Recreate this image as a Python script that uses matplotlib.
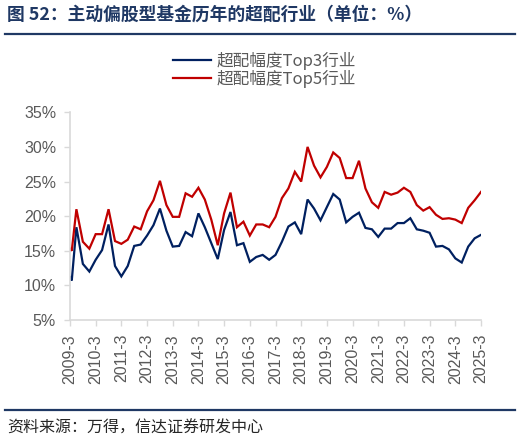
import matplotlib
matplotlib.use("Agg")
import matplotlib.pyplot as plt
import matplotlib.dates as mdates
import pandas as pd

plt.rcParams['font.family'] = ['Liberation Sans', 'Noto Sans CJK SC', 'DejaVu Sans']

# ---- data ----
dates = (["2009-03-31", "2009-04-25"] +
         [d.strftime("%Y-%m-%d") for d in pd.date_range("2009-06-30", "2025-03-31", freq="QE")])
top3 = [11.2, 10.7, 18.4, 13.1, 12.0, 13.7, 15.1, 18.8, 12.8, 11.3, 12.8, 15.7, 15.9, 17.2,
        18.7, 21.1, 17.9, 15.6, 15.7, 17.7, 17.1, 20.4, 18.4, 16.1, 13.8, 18.0, 20.6, 15.8,
        16.1, 13.4, 14.1, 14.4, 13.7,
        14.4, 16.3, 18.5, 19.1, 17.4, 22.4, 21.1, 19.4, 21.3, 23.2, 22.4, 19.1, 19.9, 20.5,
        18.3, 18.1, 17.0, 18.2, 18.2, 19.0, 19.0, 19.7, 18.1, 17.9, 17.6, 15.6, 15.7, 15.2,
        13.9, 13.3, 15.6, 16.8, 17.3]
top5 = [15.3, 15.0, 21.0, 16.3, 15.3, 17.4, 17.4, 21.0, 16.4, 16.0, 16.6, 18.5, 18.1, 20.7,
        22.3, 25.1, 21.6, 19.9, 19.9, 23.3, 22.8, 24.1, 22.4, 19.5, 15.8, 20.4, 23.4, 18.4,
        19.2, 17.2, 18.8, 18.8, 18.4,
        19.9, 22.6, 24.0, 26.4, 25.0, 30.0, 27.3, 25.6, 27.1, 29.2, 28.4, 25.5, 25.5, 28.0,
        24.0, 22.0, 21.2, 23.5, 23.1, 23.4, 24.1, 23.5, 21.6, 20.8, 21.3, 20.2, 19.6, 19.7,
        19.5, 19.0, 21.2, 22.3, 23.5]
series_names = ["超配幅度Top3行业", "超配幅度Top5行业"]
tick_years = list(range(2009, 2026))
tick_labels = [f"{y}-3" for y in tick_years]
y_ticks = [5, 10, 15, 20, 25, 30, 35]

title = "图 52：主动偏股型基金历年的超配行业（单位：%）"
source = "资料来源：万得，信达证券研发中心"

# ---- figure ----
W, H = 521, 441
fig = plt.figure(figsize=(W / 100, H / 100), dpi=100)
ax = fig.add_axes([70 / W, 1 - 320 / H, (481 - 70) / W, (320 - 112.3) / H])

x = pd.to_datetime(dates)
navy = "#002060"
red = "#C00000"
gray = "#595959"
axis_gray = "#D9D9D9"

l1, = ax.plot(x, top3, color=navy, lw=1.6, solid_joinstyle='miter')
l2, = ax.plot(x, top5, color=red, lw=1.6, solid_joinstyle='miter')

ax.set_ylim(5, 35)
ax.set_yticks(y_ticks)
ax.set_yticklabels([f"{v}%" for v in y_ticks])
tick_dates = pd.to_datetime([f"{y}-03-31" for y in tick_years])
ax.set_xticks(tick_dates)
ax.set_xticklabels(tick_labels, rotation=90)
ax.set_xlim(tick_dates[0], tick_dates[-1])

for s in ["top", "right"]:
    ax.spines[s].set_visible(False)
for s in ["left", "bottom"]:
    ax.spines[s].set_color(axis_gray)
    ax.spines[s].set_linewidth(1.2)
ax.tick_params(axis='both', colors=axis_gray, length=4, width=1.0, labelcolor=gray, labelsize=11.5)
ax.tick_params(axis='y', pad=6)
ax.tick_params(axis='x', pad=6)

fig.legend([l1, l2], series_names, loc='center', bbox_to_anchor=(264.5 / W, 1 - 69.5 / H),
           frameon=False, labelcolor=gray, handlelength=2.3,
           handletextpad=0.3, labelspacing=0.0, borderaxespad=0,
           prop={'family': ['Noto Sans CJK SC', 'DejaVu Sans'], 'size': 12})

fig.text(7 / W, 1 - 15 / H, title, fontsize=12.8, fontweight='bold', color="#1F3864",
         va='center', ha='left', family=['Noto Sans CJK SC', 'DejaVu Sans'])
fig.add_artist(plt.Line2D([5 / W, 515 / W], [1 - 33.7 / H] * 2, color="#1F3864", lw=1.6,
                          transform=fig.transFigure))
fig.add_artist(plt.Line2D([5 / W, 515 / W], [1 - 410 / H] * 2, color="#1F3864", lw=1.6,
                          transform=fig.transFigure))
fig.text(7 / W, 1 - 428 / H, source, fontsize=11.5, color="#262626", va='center', ha='left',
         family=['Noto Sans CJK SC', 'DejaVu Sans'])

fig.savefig("out.png", dpi=100)
